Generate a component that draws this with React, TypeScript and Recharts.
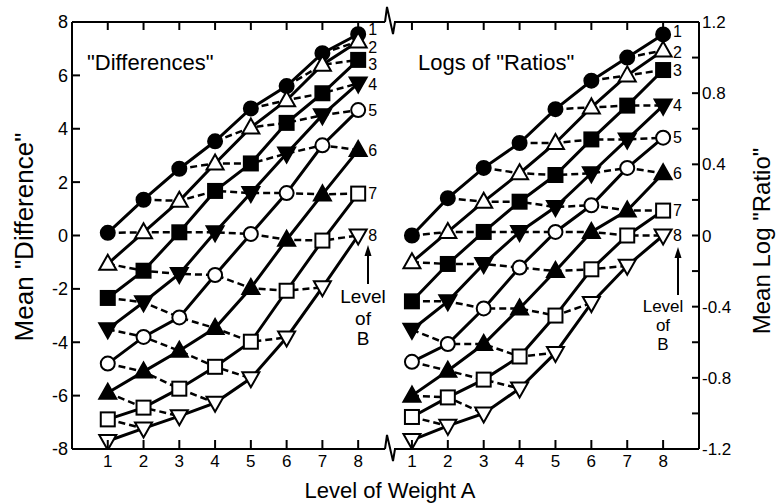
import React from 'react';
import { LineChart, Line, XAxis, YAxis, LabelList } from 'recharts';

// levels of weight A (x) and levels of B (one curve each)
const levelsA = [1, 2, 3, 4, 5, 6, 7, 8];
const levelsB = ['1', '2', '3', '4', '5', '6', '7', '8'];

// mean "difference" per level of B, values at A = 1..8
const diffB1 = [0.1, 1.34, 2.5, 3.53, 4.76, 5.6, 6.83, 7.54];
const diffB2 = [-1.06, 0.12, 1.3, 2.7, 4.05, 5.07, 6.4, 7.27];
const diffB3 = [-2.34, -1.32, 0.12, 1.67, 2.7, 4.22, 5.33, 6.58];
const diffB4 = [-3.51, -2.5, -1.44, 0.12, 1.59, 3.07, 4.51, 5.7];
const diffB5 = [-4.8, -3.8, -3.07, -1.48, 0.06, 1.59, 3.38, 4.7];
const diffB6 = [-5.89, -5.1, -4.32, -3.47, -1.97, -0.16, 1.54, 3.2];
const diffB7 = [-6.89, -6.45, -5.74, -4.92, -3.98, -2.07, -0.19, 1.57];
const diffB8 = [-7.7, -7.23, -6.77, -6.27, -5.35, -3.82, -1.94, 0.0];

// mean log "ratio" per level of B, values at A = 1..8
const logB1 = [0.0, 0.21, 0.38, 0.52, 0.71, 0.87, 1.0, 1.13];
const logB2 = [-0.15, 0.02, 0.19, 0.35, 0.52, 0.72, 0.9, 1.04];
const logB3 = [-0.37, -0.16, 0.02, 0.19, 0.34, 0.54, 0.73, 0.93];
const logB4 = [-0.53, -0.37, -0.16, 0.02, 0.16, 0.35, 0.54, 0.73];
const logB5 = [-0.71, -0.61, -0.41, -0.18, 0.02, 0.17, 0.38, 0.55];
const logB6 = [-0.9, -0.76, -0.61, -0.41, -0.2, 0.02, 0.14, 0.35];
const logB7 = [-1.02, -0.91, -0.81, -0.68, -0.45, -0.19, 0.0, 0.14];
const logB8 = [-1.15, -1.07, -1.0, -0.86, -0.66, -0.38, -0.17, 0.0];

const diffTicks = [-8, -6, -4, -2, 0, 2, 4, 6, 8];
const logTicks = [-1.2, -1.0, -0.8, -0.6, -0.4, -0.2, 0, 0.2, 0.4, 0.6, 0.8, 1.0, 1.2];

const diffSeries = [diffB1, diffB2, diffB3, diffB4, diffB5, diffB6, diffB7, diffB8];
const logSeries = [logB1, logB2, logB3, logB4, logB5, logB6, logB7, logB8];

// dashed lines join cells with the same A - B
const diagonals = [-6, -5, -4, -3, -2, -1, 0, 1, 2, 3, 4, 5, 6];

const FONT = '"Liberation Sans", Arial, Helvetica, sans-serif';
const markerShapes = ['circle', 'up', 'square', 'down', 'circle', 'up', 'square', 'down'];
const markerFilled = [true, false, true, true, false, true, false, false];

function buildRows(series: number[][]) {
  return levelsA.map((a, i) => {
    const row: Record<string, number> = { a };
    series.forEach((s, b) => {
      row[`b${b}`] = s[i];
    });
    for (let d = -7; d <= 7; d++) {
      const b = a - d;
      if (b >= 1 && b <= 8) row[`d${d + 7}`] = series[b - 1][i];
    }
    return row;
  });
}

function Marker({ cx, cy, shape, filled }: any) {
  if (cx == null || cy == null) return <g />;
  const common = { fill: filled ? '#000' : '#fff', stroke: '#000', strokeWidth: 2 };
  if (shape === 'circle') return <circle cx={cx} cy={cy} r={7} {...common} />;
  if (shape === 'square') return <rect x={cx - 7} y={cy - 7} width={14} height={14} {...common} />;
  if (shape === 'up')
    return <polygon points={`${cx},${cy - 9} ${cx - 8.5},${cy + 6} ${cx + 8.5},${cy + 6}`} {...common} />;
  return <polygon points={`${cx},${cy + 9} ${cx - 8.5},${cy - 6} ${cx + 8.5},${cy - 6}`} {...common} />;
}

const BottomTick = ({ x, y, payload }: any) => (
  <g>
    <line x1={x} x2={x} y1={y} y2={y - 9} stroke="#000" strokeWidth={2} />
    <text x={x} y={y + 18} textAnchor="middle" fontSize={17} fontFamily={FONT} fill="#000">
      {payload.value}
    </text>
  </g>
);

const TopTick = ({ x, y }: any) => <line x1={x} x2={x} y1={y} y2={y + 8} stroke="#000" strokeWidth={2} />;

const LeftTick = ({ x, y, payload }: any) => (
  <g>
    <line x1={x} x2={x + 8} y1={y} y2={y} stroke="#000" strokeWidth={2} />
    <text x={x - 4} y={y} dy="0.36em" textAnchor="end" fontSize={18} fontFamily={FONT} fill="#000">
      {payload.value}
    </text>
  </g>
);

const RightTick = ({ x, y, payload }: any) => {
  const v = payload.value as number;
  const show = Math.round(v * 10) % 4 === 0;
  const txt = Math.abs(v) < 1e-9 ? '0' : v.toFixed(1);
  return (
    <g>
      <line x1={x} x2={x - 7} y1={y} y2={y} stroke="#000" strokeWidth={2} />
      {show && (
        <text x={x + 3} y={y} dy="0.36em" textAnchor="start" fontSize={17} fontFamily={FONT} fill="#000">
          {txt}
        </text>
      )}
    </g>
  );
};

interface PanelProps {
  series: number[][];
  side: 'left' | 'right';
  width: number;
  margin: { top: number; right: number; bottom: number; left: number };
  xDomain: [number, number];
  yDomain: [number, number];
  yTicks: number[];
  labelDy: number[];
}

function Panel({ series, side, width, margin, xDomain, yDomain, yTicks, labelDy }: PanelProps) {
  const data = buildRows(series);
  const axisLine = { stroke: '#000', strokeWidth: 2 };
  return (
    <LineChart width={width} height={503} data={data} margin={margin}>
      <XAxis
        xAxisId="bottom"
        dataKey="a"
        type="number"
        domain={xDomain}
        ticks={levelsA}
        interval={0}
        height={30}
        tickSize={0}
        tickMargin={0}
        tickLine={false}
        axisLine={axisLine}
        tick={(p: any) => <BottomTick {...p} />}
        allowDataOverflow
      />
      <XAxis
        xAxisId="top"
        orientation="top"
        dataKey="a"
        type="number"
        domain={xDomain}
        ticks={levelsA}
        interval={0}
        height={1}
        tickSize={0}
        tickMargin={0}
        tickLine={false}
        axisLine={axisLine}
        tick={(p: any) => <TopTick {...p} />}
        allowDataOverflow
      />
      <YAxis
        yAxisId="y"
        orientation={side}
        type="number"
        domain={yDomain}
        ticks={yTicks}
        interval={0}
        width={side === 'left' ? 72 : 77}
        tickSize={0}
        tickMargin={0}
        tickLine={false}
        axisLine={axisLine}
        tick={(p: any) => (side === 'left' ? <LeftTick {...p} /> : <RightTick {...p} />)}
        allowDataOverflow
      />
      {diagonals.map((d) => (
        <Line
          key={`diag${d}`}
          xAxisId="bottom"
          yAxisId="y"
          type="linear"
          dataKey={`d${d + 7}`}
          stroke="#000"
          strokeWidth={2.5}
          strokeDasharray="7 4"
          dot={false}
          activeDot={false}
          isAnimationActive={false}
        />
      ))}
      {series.map((_, b) => (
        <Line
          key={`b${b}`}
          xAxisId="bottom"
          yAxisId="y"
          type="linear"
          dataKey={`b${b}`}
          stroke="#000"
          strokeWidth={3}
          activeDot={false}
          isAnimationActive={false}
          dot={(p: any) => (
            <Marker key={`m${b}-${p.index}`} cx={p.cx} cy={p.cy} shape={markerShapes[b]} filled={markerFilled[b]} />
          )}
        >
          <LabelList
            dataKey={`b${b}`}
            content={(p: any) =>
              p.index === levelsA.length - 1 ? (
                <text
                  x={p.x + 10}
                  y={p.y + labelDy[b]}
                  dy="0.34em"
                  fontSize={16}
                  fontFamily={FONT}
                  fill="#000"
                >
                  {levelsB[b]}
                </text>
              ) : null
            }
          />
        </Line>
      ))}
    </LineChart>
  );
}

export default function App() {
  return (
    <div style={{ position: 'absolute', left: 0, top: 0, width: 776, height: 503, background: '#fff', overflow: 'hidden' }}>
      <div style={{ position: 'absolute', left: 0, top: 0 }}>
        <Panel
          series={diffSeries}
          side="left"
          width={390}
          margin={{ top: 21, right: 5, bottom: 24, left: 0 }}
          xDomain={[0, 8.75]}
          yDomain={[-8, 8]}
          yTicks={diffTicks}
          labelDy={[-5, 6, 5, 1, 0, 0, 0, 0]}
        />
      </div>
      <div style={{ position: 'absolute', left: 390, top: 0 }}>
        <Panel
          series={logSeries}
          side="right"
          width={386}
          margin={{ top: 21, right: 0, bottom: 24, left: 4 }}
          xDomain={[0.5, 9]}
          yDomain={[-1.2, 1.2]}
          yTicks={logTicks}
          labelDy={[-3, 2, 1, 0, 0, 0, 0, 0]}
        />
      </div>
      <svg
        width={776}
        height={503}
        style={{ position: 'absolute', left: 0, top: 0, pointerEvents: 'none' }}
        fontFamily={FONT}
        fill="#000"
      >
        {/* axis breaks */}
        <polyline points="385,22 387,7 393,34 395,22" fill="none" stroke="#000" strokeWidth={2} />
        <polyline points="385,449 387,435 393,461 395,449" fill="none" stroke="#000" strokeWidth={2} />

        <text x={87} y={70} fontSize={22}>{'"Differences"'}</text>
        <text x={418} y={70} fontSize={22}>{'Logs of "Ratios"'}</text>

        {/* Level of B notes */}
        <line x1={368} x2={368} y1={284} y2={252} stroke="#000" strokeWidth={2} />
        <polygon points="368,245 364.5,256 371.5,256" />
        <text x={363} y={303} fontSize={19} textAnchor="middle">Level</text>
        <text x={363} y={325} fontSize={19} textAnchor="middle">of</text>
        <text x={363} y={345} fontSize={19} textAnchor="middle">B</text>

        <line x1={678} x2={678} y1={295} y2={254} stroke="#000" strokeWidth={2} />
        <polygon points="678,247 674.5,258 681.5,258" />
        <text x={663} y={312} fontSize={17} textAnchor="middle">Level</text>
        <text x={663} y={331} fontSize={17} textAnchor="middle">of</text>
        <text x={663} y={350} fontSize={17} textAnchor="middle">B</text>

        {/* axis titles */}
        <text transform="translate(33,237) rotate(-90)" fontSize={26} textAnchor="middle">
          {'Mean "Difference"'}
        </text>
        <text transform="translate(770,241) rotate(-90)" fontSize={24} textAnchor="middle">
          {'Mean Log "Ratio"'}
        </text>
        <text x={390} y={498} fontSize={22} textAnchor="middle">Level of Weight A</text>
      </svg>
    </div>
  );
}
